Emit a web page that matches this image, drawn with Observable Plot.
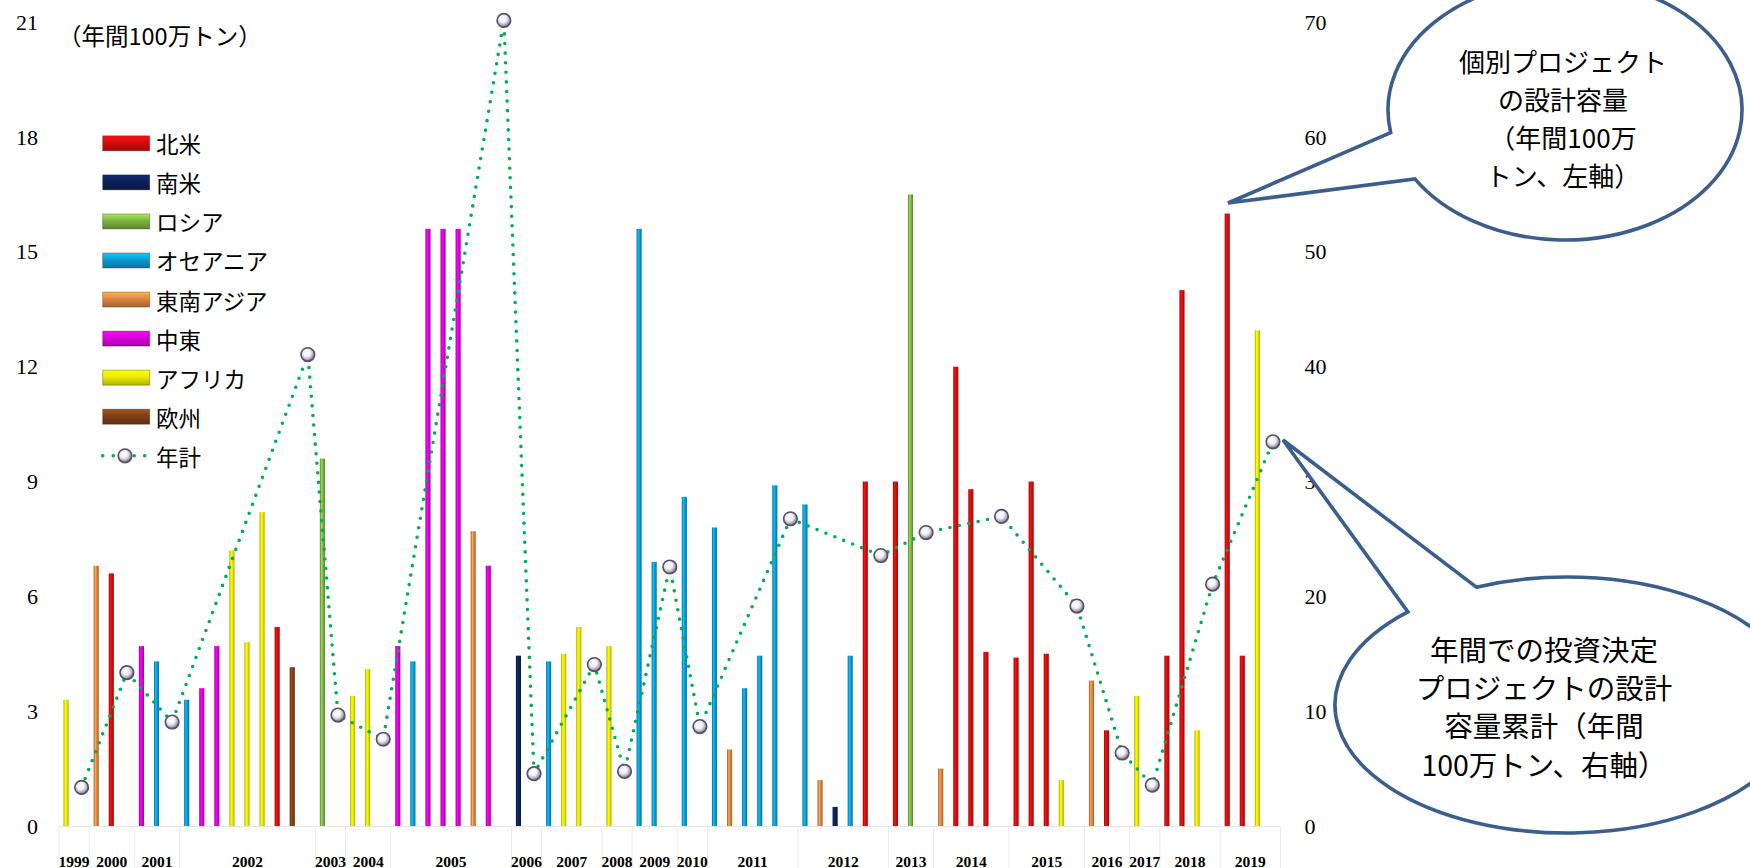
<!DOCTYPE html>
<html><head><meta charset="utf-8">
<script src="https://cdn.jsdelivr.net/npm/d3@7"></script>
<script src="https://cdn.jsdelivr.net/npm/@observablehq/plot@0.6"></script>
<style>
body{margin:0;background:#fff;}
#wrap{position:relative;width:1750px;height:868px;overflow:hidden;background:#fff;}
#overlay{position:absolute;left:0;top:0;pointer-events:none;}
</style></head><body>
<div id="wrap"></div>
<script>
// ---- data ----
const regions = ["北米","南米","ロシア","オセアニア","東南アジア","中東","アフリカ","欧州"];
const regionColors = ["#d40c0c","#0c2157","#7cb342","#0a9ad4","#dc8640","#dc00dc","#ecec00","#7f3f14"];
const years = [1999,2000,2001,2002,2003,2004,2005,2006,2007,2008,2009,2010,2011,2012,2013,2014,2015,2016,2017,2018,2019];
const projYear = [
  1999,
  2000,2000,
  2001,2001,
  2002,2002,2002,2002,2002,2002,2002,2002,
  2003,
  2004,2004,
  2005,2005,2005,2005,2005,2005,2005,
  2006,
  2007,2007,2007,
  2008,
  2009,2009,
  2010,
  2011,2011,2011,2011,2011,
  2012,2012,2012,2012,2012,
  2013,2013,
  2014,2014,2014,2014,
  2015,2015,2015,2015,
  2016,2016,
  2017,
  2018,2018,2018,
  2019,2019,2019
];
const projRegion = [
  "アフリカ",
  "東南アジア","北米",
  "中東","オセアニア",
  "オセアニア","中東","中東","アフリカ","アフリカ","アフリカ","北米","欧州",
  "ロシア",
  "アフリカ","アフリカ",
  "中東","オセアニア","中東","中東","中東","東南アジア","中東",
  "南米",
  "オセアニア","アフリカ","アフリカ",
  "アフリカ",
  "オセアニア","オセアニア",
  "オセアニア",
  "オセアニア","東南アジア","オセアニア","オセアニア","オセアニア",
  "オセアニア","東南アジア","南米","オセアニア","北米",
  "北米","ロシア",
  "東南アジア","北米","北米","北米",
  "北米","北米","北米","アフリカ",
  "東南アジア","北米",
  "アフリカ",
  "北米","北米","アフリカ",
  "北米","北米","アフリカ"
];
const projCapacity = [
  3.3,
  6.8,6.6,
  4.7,4.3,
  3.3,3.6,4.7,7.2,4.8,8.2,5.2,4.15,
  9.6,
  3.4,4.1,
  4.7,4.3,15.6,15.6,15.6,7.7,6.8,
  4.45,
  4.3,4.5,5.2,
  4.7,
  15.6,6.9,
  8.6,
  7.8,2.0,3.6,4.45,8.9,
  8.4,1.2,0.5,4.45,9.0,
  9.0,16.5,
  1.5,12.0,8.8,4.55,
  4.4,9.0,4.5,1.2,
  3.8,2.5,
  3.4,
  4.45,14.0,2.5,
  16.0,4.45,12.95
];
const yearTotals = [3.4,13.4,9.1,41.1,9.7,7.6,70.2,4.6,14.1,4.8,22.6,8.7,26.8,23.6,25.6,27.0,19.2,6.4,3.6,21.1,33.5];
const leftTicks = [0,3,6,9,12,15,18,21];
const rightTicks = [0,10,20,30,40,50,60,70];
const unitLabel = "（年間100万トン）";
const totalLabel = "年計";
const bubble1Lines = ["個別プロジェクト","の設計容量","（年間100万","トン、左軸）"];
const bubble2Lines = ["年間での投資決定","プロジェクトの設計","容量累計（年間","100万トン、右軸）"];

// ---- layout derived from data ----
const K = 21 / 70; // right axis -> left axis units
let slot = 0;
const projects = [], totals = [], groups = [];
years.forEach((yr, yi) => {
  const start = slot;
  projYear.forEach((y, i) => {
    if (y === yr) projects.push({slot: slot++, year: yr, region: projRegion[i], value: projCapacity[i]});
  });
  totals.push({slot: slot, year: yr, total: yearTotals[yi]});
  slot++;
  groups.push({year: yr, start, end: slot - 1});
});
const nSlots = slot;
const boundaries = groups.map(g => g.start - 0.5).concat([nSlots - 0.5]);
const BW = 0.17;

const serif = "'Liberation Serif', 'Times New Roman', serif";
const jp = "'Noto Sans CJK JP', 'Noto Sans', sans-serif";

const chart = Plot.plot({
  width: 1750, height: 868,
  marginLeft: 58.5, marginRight: 470, marginTop: 22.2, marginBottom: 42,
  x: {domain: [-0.5, nSlots - 0.5], axis: null},
  y: {domain: [0, 21]},
  style: {fontFamily: serif, fontSize: "22px", color: "#000", background: "#fff", overflow: "visible"},
  marks: [
    Plot.ruleY([0], {stroke: "#e6e6e6"}),
    Plot.ruleX(boundaries, {x: d => d, y1: 0, y2: -1.1, stroke: "#ebebeb"}),
    ...regions.map((r, i) => Plot.rect(projects.filter(p => p.region === r), {
      x1: p => p.slot - BW, x2: p => p.slot + BW, y1: 0, y2: "value",
      fill: `url(#bar${i})`
    })),
    Plot.line(totals, {x: "slot", y: d => d.total * K, stroke: "#00b050", strokeWidth: 3.6,
      strokeDasharray: "0 9.6", strokeLinecap: "round", strokeLinejoin: "round"}),
    Plot.dot(totals, {x: "slot", y: d => d.total * K, r: 6.8, fill: "url(#sphere)", stroke: "#57516a", strokeWidth: 1.6}),
    Plot.axisY(leftTicks, {anchor: "left", tickSize: 0, tickPadding: 21, label: null, fontSize: 22}),
    Plot.axisY(rightTicks.map(v => v * K), {anchor: "right", tickSize: 0, tickPadding: 24, label: null,
      tickFormat: d => String(Math.round(d / K)), fontSize: 22}),
    Plot.text(groups, {x: d => (d.start + d.end) / 2, y: 0, text: d => String(d.year), dy: 40,
      lineAnchor: "bottom", fontFamily: serif, fontWeight: "bold", fontSize: 15.5, fill: "#000"})
  ]
});
const wrap = document.getElementById("wrap");
wrap.appendChild(chart);

// gradients
let defs = "<defs>";
regionColors.forEach((c, i) => {
  const base = d3.color(c);
  const dk = base.darker(0.9).formatHex(), br = base.brighter(0.6).formatHex();
  defs += `<linearGradient id="bar${i}" x1="0" x2="1" y1="0" y2="0">
    <stop offset="0" stop-color="${dk}"/><stop offset="0.35" stop-color="${br}"/>
    <stop offset="0.6" stop-color="${c}"/><stop offset="1" stop-color="${dk}"/></linearGradient>`;
  defs += `<linearGradient id="leg${i}" x1="0" x2="0" y1="0" y2="1">
    <stop offset="0" stop-color="${base.brighter(0.8).formatHex()}"/><stop offset="0.45" stop-color="${c}"/>
    <stop offset="1" stop-color="${base.darker(0.8).formatHex()}"/></linearGradient>`;
});
defs += `<radialGradient id="sphere" cx="0.42" cy="0.38" r="0.62">
  <stop offset="0" stop-color="#ffffff"/><stop offset="0.45" stop-color="#efeef3"/>
  <stop offset="0.8" stop-color="#a7a2b4"/><stop offset="1" stop-color="#4f4962"/></radialGradient>`;
defs += "</defs>";
chart.insertAdjacentHTML("afterbegin", defs);

// ---- overlay: unit label, legend, callouts ----
const ov = d3.select(wrap).append("svg").attr("id", "overlay").attr("width", 1750).attr("height", 868);

ov.append("text").attr("x", 58).attr("y", 35).attr("dominant-baseline", "central")
  .attr("font-family", jp).attr("font-size", 23.5).attr("fill", "#000").text(unitLabel);

const legY0 = 143.3, legStep = 39.06;
regions.forEach((r, i) => {
  const y = legY0 + i * legStep;
  ov.append("rect").attr("x", 102.7).attr("y", y - 7.5).attr("width", 47).attr("height", 15)
    .attr("fill", `url(#leg${i})`).attr("stroke", "rgba(0,0,0,0.28)").attr("stroke-width", 1);
  ov.append("text").attr("x", 156).attr("y", y).attr("dominant-baseline", "central")
    .attr("font-family", jp).attr("font-size", 22.5).attr("fill", "#000").text(r);
});
{
  const y = legY0 + regions.length * legStep;
  ov.append("line").attr("x1", 102.7).attr("x2", 147).attr("y1", y).attr("y2", y)
    .attr("stroke", "#00b050").attr("stroke-width", 3.6).attr("stroke-dasharray", "0 10.5").attr("stroke-linecap", "round");
  ov.append("circle").attr("cx", 125).attr("cy", y).attr("r", 6.8).attr("fill", "url(#sphere)")
    .attr("stroke", "#57516a").attr("stroke-width", 1.6);
  ov.append("text").attr("x", 156).attr("y", y).attr("dominant-baseline", "central")
    .attr("font-family", jp).attr("font-size", 22.5).attr("fill", "#000").text(totalLabel);
}

function bubble(cx, cy, rx, ry, a1, a2, tip) {
  const P = a => [cx + rx * Math.cos(a * Math.PI / 180), cy + ry * Math.sin(a * Math.PI / 180)];
  const p1 = P(a1), p2 = P(a2);
  const d = `M${p2[0]},${p2[1]} L${tip[0]},${tip[1]} L${p1[0]},${p1[1]} A${rx},${ry} 0 1 0 ${p2[0]},${p2[1]} Z`;
  ov.append("path").attr("d", d).attr("fill", "#fff").attr("stroke", "#3b5e8c")
    .attr("stroke-width", 3.6).attr("stroke-linejoin", "miter");
}
function lines(arr, x, y0, step, size) {
  arr.forEach((t, i) => ov.append("text").attr("x", x).attr("y", y0 + i * step)
    .attr("text-anchor", "middle").attr("dominant-baseline", "central")
    .attr("font-family", jp).attr("font-size", size).attr("fill", "#000").text(t));
}
bubble(1565, 110, 177, 130, 148, 170, [1228, 203]);
lines(bubble1Lines, 1563, 60, 38, 26);
bubble(1567, 705, 232, 128, 226.7, 247, [1283, 440]);
lines(bubble2Lines, 1544, 648.3, 38.3, 28.5);
</script>
</body></html>
